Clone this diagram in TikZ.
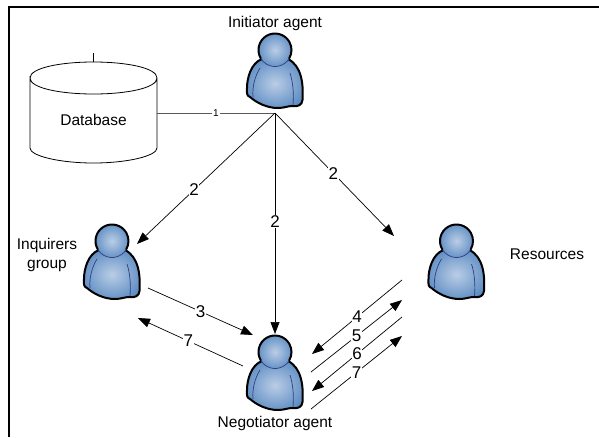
\documentclass[tikz,border=0pt]{standalone}
\usepackage{fontspec}
\setmainfont{Liberation Sans}
\usetikzlibrary{arrows.meta}
\definecolor{bodyblue}{RGB}{66,122,184}
\definecolor{lightblue}{RGB}{186,205,230}
\definecolor{seamblue}{RGB}{50,60,130}
\pgfdeclareradialshading{personshade}{\pgfpoint{0bp}{0bp}}{color(0bp)=(lightblue); color(36bp)=(bodyblue); color(50bp)=(bodyblue)}
\tikzset{
  x=1pt,y=-1pt,
  lbl/.style={font=\fontsize{15.5}{19}\selectfont,align=center,inner sep=1pt},
  num/.style={fill=white,font=\fontsize{17}{17}\selectfont,inner sep=0.6pt},
  link/.style={draw=black,line width=0.7pt},
  arrow/.style={link,-{Triangle[length=12pt,width=9pt]}},
  person/.pic={
    % body
    \path[draw=black,line width=2pt,shading=personshade]
      (-13,9) .. controls (-24,13) and (-28,28) .. (-28,38)
      .. controls (-28.5,43) and (-28,46) .. (-25,47)
      .. controls (-18,53) and (-8,58) .. (3,58)
      .. controls (9,58) and (13,56) .. (17,56)
      .. controls (23,57) and (27,55) .. (27.5,50)
      .. controls (28.5,35) and (27,16) .. (13,9) -- cycle;
    \draw[seamblue,line width=0.7pt] (-15,18) .. controls (-20,26) and (-23,37) .. (-22,47);
    \draw[seamblue,line width=0.7pt] (15,23) .. controls (18,32) and (19,44) .. (18,55);
    % head
    \path[shading=personshade] (0,0) circle (16.5);
    \draw[seamblue,line width=0.7pt] (14.3,8.25) arc[start angle=30,end angle=150,radius=16.5];
    \draw[line width=2pt,line cap=round] (-14.3,8.25) arc[start angle=150,end angle=390,radius=16.5];
  }
}
\begin{document}
\begin{tikzpicture}
\useasboundingbox (0,0) rectangle (599,437);
\draw[line width=1.8pt] (9,437) -- (9,7) -- (599,7);

% agents
\pic (initiatorpic) at (275,50) {person};
\pic (inquirerspic) at (112,241) {person};
\pic (resourcespic) at (456.5,241) {person};
\pic (negotiatorpic) at (275,352) {person};

\node (initiator) at (275,23) [lbl] {Initiator agent};
\node (inquirers) at (47,255) [lbl] {Inquirers\\group};
\node (resources) at (547,254) [lbl] {Resources};
\node (negotiator) at (275,423) [lbl] {Negotiator agent};
\node (database) at (93.5,120) [lbl] {Database};

% database drum
\draw[line width=0.8pt] (30,78) .. controls (30,68) and (60,62) .. (93.5,62)
  .. controls (127,62) and (157,68) .. (157,78)
  .. controls (157,88) and (127,94) .. (93.5,94)
  .. controls (60,94) and (30,88) .. (30,78)
  -- (30,148) .. controls (30,156) and (60,163) .. (93.5,163)
  .. controls (127,163) and (157,156) .. (157,148) -- (157,78);
\coordinate (dbtop) at (93.5,62);
\coordinate (dbstub) at (93.5,53);
\draw[link] (dbtop) -- (dbstub);

\coordinate (hub) at (275,113);
\coordinate (dbside) at (157,113);
\coordinate (inqin) at (137,244);
\coordinate (resin) at (394,236);
\coordinate (negtop) at (275,334);
\draw[link,draw=black!65,line width=1pt] (dbside) -- node[fill=white,font=\fontsize{10}{10}\selectfont,inner sep=1pt,text=black] {1} (hub);
\draw[arrow] (hub) -- node[num,pos=0.587] {2} (inqin);
\draw[arrow] (hub) -- node[num,pos=0.49] {2} (resin);
\draw[arrow] (hub) -- node[num,pos=0.49] {2} (negtop);

% inquirers and negotiator
\coordinate (ia) at (148,288);
\coordinate (ib) at (253,335);
\coordinate (ic) at (243,366);
\coordinate (id) at (138,318);
\draw[arrow] (ia) -- node[num] {3} (ib);
\draw[arrow] (ic) -- node[num,pos=0.52] {7} (id);

% negotiator and resources
\coordinate (r4) at (402,280);
\coordinate (n4) at (312,354);
\coordinate (n5) at (311,372);
\coordinate (r5) at (402,300);
\coordinate (r6) at (402,317);
\coordinate (n6) at (312,391);
\coordinate (n7) at (311,409);
\coordinate (r7) at (402,336);
\draw[arrow] (r4) -- node[num] {4} (n4);
\draw[arrow] (n5) -- node[num] {5} (r5);
\draw[arrow] (r6) -- node[num] {6} (n6);
\draw[arrow] (n7) -- node[num] {7} (r7);
\end{tikzpicture}
\end{document}
